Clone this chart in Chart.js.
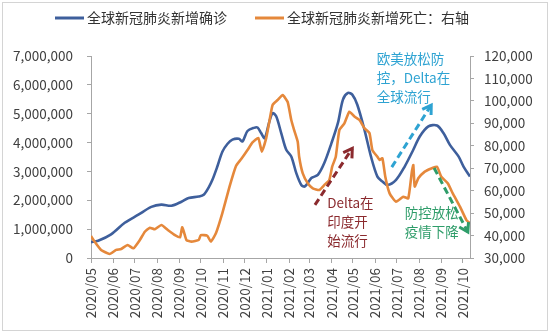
<!DOCTYPE html>
<html>
<head>
<meta charset="utf-8">
<script src="https://cdn.jsdelivr.net/npm/chart.js@4.4.1/dist/chart.umd.min.js"></script>
<style>
	html, body { margin: 0; padding: 0; background: #fff; }
</style>
</head>
<body>
<canvas id="chart" width="550" height="333"></canvas>
<script>
// Global weekly new COVID-19 cases (left axis) and deaths (right axis)

const monthLabels = [
	"2020/05", "2020/06", "2020/07", "2020/08", "2020/09", "2020/10", "2020/11", "2020/12",
	"2021/01", "2021/02", "2021/03", "2021/04", "2021/05", "2021/06", "2021/07", "2021/08",
	"2021/09", "2021/10",
];

const seriesNames = ["全球新冠肺炎新增确诊", "全球新冠肺炎新增死亡：右轴"];

const caseDates = [
	"2020-05-01", "2020-05-11", "2020-05-29", "2020-06-17", "2020-07-06", "2020-07-24", "2020-08-07",
	"2020-08-21", "2020-09-04", "2020-09-14", "2020-09-28", "2020-10-05", "2020-10-12", "2020-10-17",
	"2020-10-24", "2020-10-31", "2020-11-07", "2020-11-14", "2020-11-23", "2020-11-28", "2020-12-05",
	"2020-12-14", "2020-12-19", "2020-12-24", "2020-12-29", "2021-01-04", "2021-01-09", "2021-01-14",
	"2021-01-21", "2021-01-28", "2021-02-04", "2021-02-11", "2021-02-18", "2021-02-23", "2021-03-04",
	"2021-03-13", "2021-03-22", "2021-04-01", "2021-04-10", "2021-04-17", "2021-04-24", "2021-04-30",
	"2021-05-07", "2021-05-17", "2021-05-26", "2021-06-04", "2021-06-11", "2021-06-18", "2021-06-30",
	"2021-07-12", "2021-07-24", "2021-08-02", "2021-08-14", "2021-08-26", "2021-09-04", "2021-09-13",
	"2021-09-25", "2021-10-02", "2021-10-11",
];
const caseValues = [
	550000, 600000, 820000, 1220000, 1500000, 1770000, 1850000,
	1810000, 1950000, 2080000, 2130000, 2190000, 2450000, 2700000,
	3170000, 3680000, 3950000, 4100000, 4130000, 4040000, 4400000,
	4510000, 4520000, 4330000, 4150000, 4680000, 5020000, 4910000,
	4330000, 3750000, 3520000, 2940000, 2530000, 2480000, 2770000,
	2880000, 3290000, 3980000, 4680000, 5490000, 5720000, 5660000,
	5310000, 4440000, 3520000, 2820000, 2650000, 2530000, 2710000,
	3170000, 3750000, 4210000, 4560000, 4590000, 4330000, 3920000,
	3520000, 3170000, 2820000,
];

const deathDates = [
	"2020-05-01", "2020-05-06", "2020-05-15", "2020-05-27", "2020-06-05", "2020-06-12", "2020-06-21",
	"2020-06-29", "2020-07-08", "2020-07-15", "2020-07-22", "2020-07-29", "2020-08-07", "2020-08-16",
	"2020-08-26", "2020-09-02", "2020-09-05", "2020-09-08", "2020-09-11", "2020-09-18", "2020-09-28",
	"2020-10-01", "2020-10-10", "2020-10-15", "2020-10-22", "2020-10-31", "2020-11-10", "2020-11-19",
	"2020-11-26", "2020-12-05", "2020-12-12", "2020-12-20", "2020-12-25", "2020-12-31", "2021-01-04",
	"2021-01-09", "2021-01-16", "2021-01-23", "2021-01-30", "2021-02-04", "2021-02-08", "2021-02-13",
	"2021-02-15", "2021-02-20", "2021-02-27", "2021-03-06", "2021-03-15", "2021-03-22", "2021-03-29",
	"2021-04-02", "2021-04-07", "2021-04-12", "2021-04-19", "2021-04-26", "2021-05-03", "2021-05-10",
	"2021-05-17", "2021-05-24", "2021-05-28", "2021-06-04", "2021-06-07", "2021-06-11", "2021-06-15",
	"2021-06-21", "2021-06-30", "2021-07-10", "2021-07-17", "2021-07-22", "2021-07-24", "2021-07-26",
	"2021-07-31", "2021-08-09", "2021-08-19", "2021-08-26", "2021-09-01", "2021-09-10", "2021-09-17",
	"2021-09-27", "2021-10-06", "2021-10-11",
];
const deathValues = [
	39800, 37300, 33600, 31800, 33600, 34000, 35800,
	34300, 38000, 41700, 43500, 42800, 44700, 42500,
	40200, 39200, 43700, 41000, 38000, 37300, 38000,
	40200, 39900, 37300, 41000, 50000, 61800, 71000,
	74000, 78100, 81500, 83500, 77400, 83300, 90000,
	98200, 100400, 102600, 99500, 91500, 87000, 81800,
	75100, 67700, 63300, 61000, 60300, 62500, 64800,
	70700, 75100, 87000, 90000, 95200, 93000, 91500,
	87800, 85600, 78100, 75100, 73700, 74400, 66200,
	58800, 55100, 57300, 56600, 68500, 71400, 61800,
	65500, 68500, 70000, 70700, 66200, 63300, 58800,
	52900, 46900, 45500,
];

const FONT = '"Noto Sans CJK SC", "Liberation Sans", sans-serif';
const AXIS_COLOR = "#a6a6a6";
const TEXT_COLOR = "#404040";

// days since 2020-05-01, accepts "2020-05-01" or "2020/05"
function day(s) {
	const [y, m, d] = s.split(/[-/]/).map(Number);
	return Math.round((Date.UTC(y, m - 1, d || 1) - Date.UTC(2020, 4, 1)) / 864e5);
}

const notes = [
	{ lines: ["Delta在", "印度开", "始流行"], color: "#8b2a2e", text: ["2021-03-26", 1900000], from: ["2021-03-09", 1840000], to: ["2021-04-30", 3800000] },
	{ lines: ["欧美放松防", "控，Delta在", "全球流行"], color: "#2ea3d2", text: ["2021-06-03", 6900000], from: ["2021-06-24", 3150000], to: ["2021-08-18", 5300000] },
	{ lines: ["防控放松", "疫情下降"], color: "#2f9d6a", text: ["2021-07-12", 1560000], from: ["2021-08-22", 3120000], to: ["2021-10-08", 900000] },
];

function dashedArrow(ctx, x0, y0, x1, y1, color) {
	ctx.save();
	ctx.strokeStyle = color;
	ctx.lineWidth = 3;
	ctx.setLineDash([7, 4]);
	ctx.beginPath();
	ctx.moveTo(x0, y0);
	ctx.lineTo(x1, y1);
	ctx.stroke();
	ctx.setLineDash([]);
	const a = Math.atan2(y1 - y0, x1 - x0);
	const h = 10;
	ctx.beginPath();
	ctx.moveTo(x1 - h * Math.cos(a - 0.55), y1 - h * Math.sin(a - 0.55));
	ctx.lineTo(x1, y1);
	ctx.lineTo(x1 - h * Math.cos(a + 0.55), y1 - h * Math.sin(a + 0.55));
	ctx.stroke();
	ctx.restore();
}

const framePlugin = {
	id: "frame",
	beforeDraw(chart) {
		const ctx = chart.ctx;
		ctx.save();
		ctx.fillStyle = "#ffffff";
		ctx.fillRect(0, 0, chart.width, chart.height);
		ctx.strokeStyle = "#d4d4d4";
		ctx.lineWidth = 1;
		ctx.strokeRect(2.5, 2.5, chart.width - 5, chart.height - 5);
		ctx.restore();
	},
};

const legendPlugin = {
	id: "lineLegend",
	afterDraw(chart) {
		const ctx = chart.ctx;
		const slots = [55, 255];
		ctx.save();
		ctx.font = "14px " + FONT;
		ctx.textBaseline = "middle";
		chart.data.datasets.forEach((ds, i) => {
			const x = slots[i];
			ctx.strokeStyle = ds.borderColor;
			ctx.lineWidth = 3;
			ctx.beginPath();
			ctx.moveTo(x, 18);
			ctx.lineTo(x + 29, 18);
			ctx.stroke();
			ctx.fillStyle = "#333333";
			ctx.fillText(ds.label, x + 32, 18);
		});
		ctx.restore();
	},
};

const notesPlugin = {
	id: "notes",
	afterDatasetsDraw(chart) {
		const ctx = chart.ctx;
		const sx = chart.scales.x;
		const sy = chart.scales.y;
		const px = (p) => [sx.getPixelForValue(day(p[0])), sy.getPixelForValue(p[1])];
		notes.forEach((n) => {
			const [x0, y0] = px(n.from);
			const [x1, y1] = px(n.to);
			dashedArrow(ctx, x0, y0, x1, y1, n.color);
			const [tx, ty] = px(n.text);
			ctx.save();
			ctx.font = "13.5px " + FONT;
			ctx.fillStyle = n.color;
			ctx.textBaseline = "middle";
			n.lines.forEach((t, k) => ctx.fillText(t, tx, ty + k * 19));
			ctx.restore();
		});
	},
};

const tickFont = { family: FONT, size: 13.5 };

new Chart(document.getElementById("chart").getContext("2d"), {
	type: "line",
	data: {
		datasets: [
			{
				label: seriesNames[0],
				data: caseDates.map((d, i) => ({ x: day(d), y: caseValues[i] })),
				borderColor: "#3e5f9c",
				borderWidth: 2.6,
				pointRadius: 0,
				tension: 0.3,
				yAxisID: "y",
				order: 1,
			},
			{
				label: seriesNames[1],
				data: deathDates.map((d, i) => ({ x: day(d), y: deathValues[i] })),
				borderColor: "#e5883b",
				borderWidth: 2.6,
				pointRadius: 0,
				tension: 0.15,
				yAxisID: "y1",
				order: 0,
			},
		],
	},
	options: {
		responsive: false,
		animation: false,
		layout: { padding: { top: 56, left: 0, right: 0, bottom: 0 } },
		plugins: {
			legend: { display: false },
			tooltip: { enabled: false },
		},
		scales: {
			x: {
				type: "linear",
				min: 0,
				max: day("2021-10-11"),
				afterBuildTicks: (axis) => {
					axis.ticks = monthLabels.map((m) => ({ value: day(m) }));
				},
				afterFit: (axis) => {
					axis.height = 75;
				},
				ticks: {
					autoSkip: false,
					minRotation: 90,
					maxRotation: 90,
					padding: 5,
					color: TEXT_COLOR,
					font: tickFont,
					callback: (value, index) => monthLabels[index],
				},
				grid: { drawOnChartArea: false, tickLength: 5, color: AXIS_COLOR },
				border: { color: AXIS_COLOR },
			},
			y: {
				position: "left",
				min: 0,
				max: 7000000,
				afterFit: (axis) => {
					axis.width = 91;
				},
				ticks: {
					stepSize: 1000000,
					padding: 14,
					color: TEXT_COLOR,
					font: tickFont,
					callback: (v) => v.toLocaleString("en-US"),
				},
				grid: { drawOnChartArea: false, tickLength: 4, color: AXIS_COLOR },
				border: { color: AXIS_COLOR },
			},
			y1: {
				position: "right",
				min: 30000,
				max: 120000,
				afterFit: (axis) => {
					axis.width = 80;
				},
				ticks: {
					stepSize: 10000,
					padding: 10,
					color: TEXT_COLOR,
					font: tickFont,
					callback: (v) => v.toLocaleString("en-US"),
				},
				grid: { drawOnChartArea: false, tickLength: 4, color: AXIS_COLOR },
				border: { color: AXIS_COLOR },
			},
		},
	},
	plugins: [framePlugin, legendPlugin, notesPlugin],
});
</script>
</body>
</html>
